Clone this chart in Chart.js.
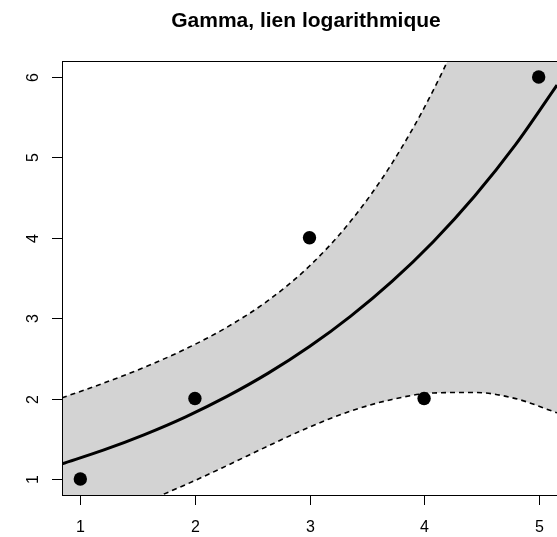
<!DOCTYPE html>
<html>
<head>
<meta charset="utf-8">
<script src="https://cdn.jsdelivr.net/npm/chart.js@4"></script>
<style>
  body { margin: 0; background: #fff; }
  canvas { display: block; }
</style>
</head>
<body>
<canvas id="gammaChart" width="557" height="537"></canvas>
<script>
  // observed points
  const obsX = [1, 2, 3, 4, 5];
  const obsY = [1, 2, 4, 2, 6];

  // fitted curve and band
  const bandX = [0.84, 1.2, 1.56, 1.92, 2.28, 2.64, 3.0, 3.36, 3.72, 4.08, 4.44, 4.8, 5.16];
  const fitY = [1.188, 1.358, 1.552, 1.773, 2.027, 2.316, 2.647, 3.026, 3.458, 3.952, 4.517, 5.162, 5.900];
  const lowerY = [0.367, 0.526, 0.713, 0.929, 1.166, 1.411, 1.645, 1.844, 1.989, 2.069, 2.076, 1.999, 1.822];
  const upperY = [2.009, 2.190, 2.390, 2.618, 2.888, 3.221, 3.649, 4.208, 4.927, 5.835, 6.958, 8.325, 9.978];

  const xTicks = [1, 2, 3, 4, 5];
  const yTicks = [1, 2, 3, 4, 5, 6];
  const titleText = 'Gamma, lien logarithmique';

  const toPoints = (xs, ys) => xs.map((x, i) => ({ x: x, y: ys[i] }));

  // R style frame, axes and title
  const baseAxes = {
    id: 'baseAxes',
    afterDraw(chart) {
      const ctx = chart.ctx;
      const area = chart.chartArea;
      const xs = chart.scales.x;
      const ys = chart.scales.y;
      ctx.save();
      ctx.strokeStyle = '#000';
      ctx.fillStyle = '#000';
      ctx.lineWidth = 1;
      ctx.strokeRect(area.left + 0.5, area.top + 0.5, area.right - area.left, area.bottom - area.top);

      ctx.font = '16px "Liberation Sans", Arial, sans-serif';
      ctx.textAlign = 'center';
      ctx.textBaseline = 'alphabetic';
      xTicks.forEach(v => {
        const px = Math.round(xs.getPixelForValue(v)) + 0.5;
        ctx.beginPath();
        ctx.moveTo(px, area.bottom);
        ctx.lineTo(px, area.bottom + 10);
        ctx.stroke();
        ctx.fillText(String(v), px, 532);
      });
      yTicks.forEach(v => {
        const py = Math.round(ys.getPixelForValue(v)) + 0.5;
        ctx.beginPath();
        ctx.moveTo(area.left, py);
        ctx.lineTo(area.left - 10, py);
        ctx.stroke();
        ctx.save();
        ctx.translate(38, py);
        ctx.rotate(-Math.PI / 2);
        ctx.fillText(String(v), 0, 0);
        ctx.restore();
      });

      ctx.font = 'bold 21px "Liberation Sans", Arial, sans-serif';
      ctx.fillText(titleText, 306, 27);
      ctx.restore();
    }
  };

  const ctx = document.getElementById('gammaChart').getContext('2d');
  new Chart(ctx, {
    type: 'line',
    data: {
      datasets: [
        {
          label: 'upper',
          data: toPoints(bandX, upperY),
          borderColor: '#000',
          borderWidth: 1.6,
          borderDash: [5, 4],
          backgroundColor: '#d3d3d3',
          fill: 1,
          pointRadius: 0,
          cubicInterpolationMode: 'monotone',
          clip: 0,
          order: 3
        },
        {
          label: 'lower',
          data: toPoints(bandX, lowerY),
          borderColor: '#000',
          borderWidth: 1.6,
          borderDash: [5, 4],
          fill: false,
          pointRadius: 0,
          cubicInterpolationMode: 'monotone',
          clip: 0,
          order: 2
        },
        {
          label: 'fit',
          data: toPoints(bandX, fitY),
          borderColor: '#000',
          borderWidth: 3,
          fill: false,
          pointRadius: 0,
          cubicInterpolationMode: 'monotone',
          clip: 0,
          order: 1
        },
        {
          label: 'obs',
          data: toPoints(obsX, obsY),
          showLine: false,
          pointRadius: 6.7,
          pointBackgroundColor: '#000',
          pointBorderWidth: 0,
          order: 0
        }
      ]
    },
    options: {
      responsive: false,
      animation: false,
      devicePixelRatio: 1,
      layout: { autoPadding: false, padding: { left: 62, top: 61, right: 0, bottom: 42 } },
      scales: {
        x: { type: 'linear', min: 0.84, max: 5.16, display: false },
        y: { type: 'linear', min: 0.8, max: 6.2, display: false }
      },
      plugins: {
        legend: { display: false },
        tooltip: { enabled: false },
        title: { display: false }
      }
    },
    plugins: [baseAxes]
  });
</script>
</body>
</html>
